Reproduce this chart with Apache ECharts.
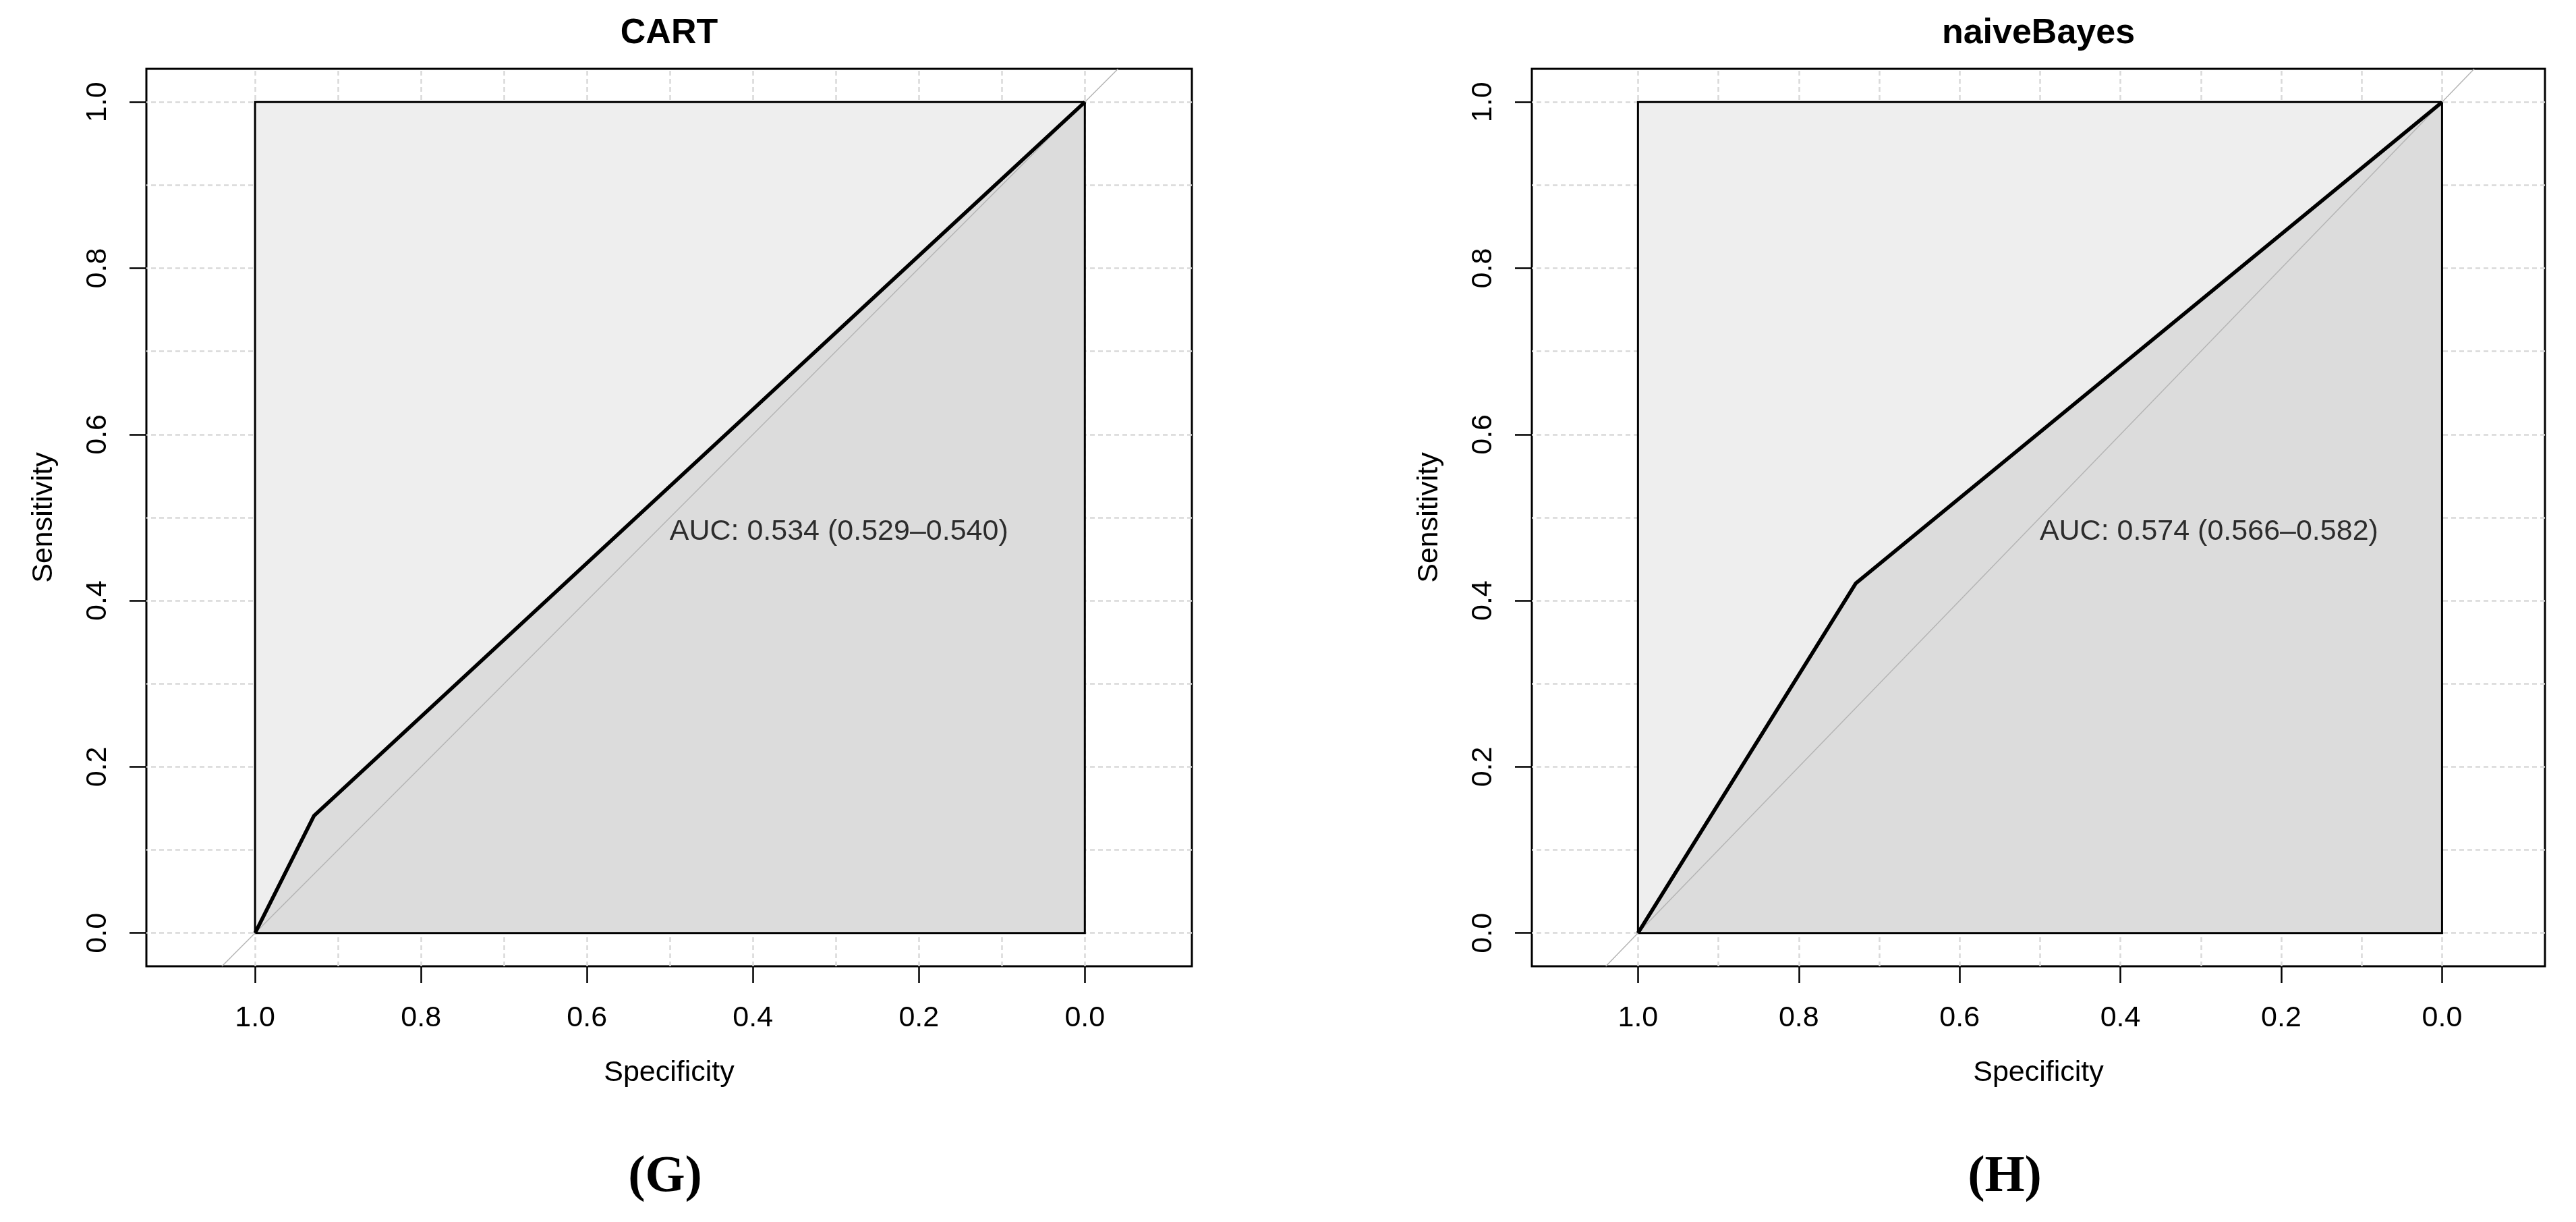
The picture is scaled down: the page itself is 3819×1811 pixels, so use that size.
<!DOCTYPE html>
<html>
<head>
<meta charset="utf-8">
<title>ROC curves - CART / naiveBayes</title>
<script src="https://cdn.jsdelivr.net/npm/echarts@6/dist/echarts.min.js"></script>
<style>
  html, body { margin: 0; padding: 0; background: #fff; }
  #chart { width: 3819px; height: 1811px; }
</style>
</head>
<body>
<div id="chart"></div>
<script>
// ---- data ----
var TITLES = ['CART', 'naiveBayes'];
var PANEL_TAGS = ['(G)', '(H)'];
var AUC_TEXTS = ['AUC: 0.534 (0.529\u20130.540)', 'AUC: 0.574 (0.566\u20130.582)'];

var X_TICKS = [1.0, 0.8, 0.6, 0.4, 0.2, 0.0];
var Y_TICKS = [0.0, 0.2, 0.4, 0.6, 0.8, 1.0];
var GRID_STEPS = [0.0, 0.1, 0.2, 0.3, 0.4, 0.5, 0.6, 0.7, 0.8, 0.9, 1.0];

// ROC curves (specificity, sensitivity)
var CART_SPEC = [1.0, 0.929, 0.0];
var CART_SENS = [0.0, 0.141, 1.0];
var NB_SPEC = [1.0, 0.729, 0.0];
var NB_SENS = [0.0, 0.421, 1.0];

// max AUC square and chance diagonal
var MAX_SPEC = [1.0, 1.0, 0.0, 0.0];
var MAX_SENS = [0.0, 1.0, 1.0, 0.0];
var CHANCE_SPEC = [1.04, -0.04];
var CHANCE_SENS = [-0.04, 1.04];

var FONT = '"Liberation Sans", Arial, sans-serif';

function zip(xs, ys) {
  return xs.map(function (x, i) { return [x, ys[i]]; });
}

// polygon drawn through the axes of one grid
function polygon(idx, pts, style, z) {
  return {
    type: 'custom',
    xAxisIndex: idx,
    yAxisIndex: idx,
    z: z,
    silent: true,
    data: pts,
    renderItem: function (params, api) {
      if (params.dataIndex !== 0) return;
      return {
        type: 'polygon',
        shape: { points: pts.map(function (p) { return api.coord(p); }) },
        style: style
      };
    }
  };
}

var panels = [
  { left: 217, width: 1550, xmin: -0.129, xmax: 1.131, spec: CART_SPEC, sens: CART_SENS, cx: 992, tagX: 986 },
  { left: 2271, width: 1502, xmin: -0.128, xmax: 1.132, spec: NB_SPEC, sens: NB_SENS, cx: 3022, tagX: 2972 }
];

var grids = [], xAxes = [], yAxes = [], series = [], graphics = [];

panels.forEach(function (p, i) {
  grids.push({
    left: p.left, top: 102, width: p.width, height: 1330,
    show: true, borderColor: '#000', borderWidth: 3, backgroundColor: 'transparent'
  });

  xAxes.push({
    type: 'value', gridIndex: i, inverse: true, min: p.xmin, max: p.xmax,
    axisLine: { show: false, onZero: false },
    splitLine: { show: false },
    axisTick: { show: true, customValues: X_TICKS, length: 25, lineStyle: { color: '#000', width: 2.5 } },
    axisLabel: {
      customValues: X_TICKS, margin: 56, fontSize: 43, color: '#000', fontFamily: FONT,
      formatter: function (v) { return v.toFixed(1); }
    },
    name: 'Specificity', nameLocation: 'middle', nameGap: 137,
    nameTextStyle: { fontSize: 43, color: '#000', fontFamily: FONT }
  });

  yAxes.push({
    type: 'value', gridIndex: i, min: -0.04, max: 1.04,
    axisLine: { show: false, onZero: false },
    splitLine: { show: false },
    axisTick: { show: true, customValues: Y_TICKS, length: 25, lineStyle: { color: '#000', width: 2.5 } },
    axisLabel: {
      customValues: Y_TICKS, rotate: 90, margin: 50, fontSize: 43, color: '#000', fontFamily: FONT,
      formatter: function (v) { return v.toFixed(1); }
    },
    name: 'Sensitivity', nameLocation: 'middle', nameGap: 130,
    nameTextStyle: { fontSize: 43, color: '#000', fontFamily: FONT }
  });

  // dotted background grid at every 0.1, kept under the polygons
  var gridLines = GRID_STEPS.map(function (v) { return { xAxis: v }; })
    .concat(GRID_STEPS.map(function (v) { return { yAxis: v }; }));
  series.push({
    type: 'line', xAxisIndex: i, yAxisIndex: i, z: 1, silent: true,
    data: [[1, 0]], symbol: 'none', lineStyle: { width: 0 },
    markLine: {
      z: 1, silent: true, symbol: 'none', label: { show: false },
      lineStyle: { color: '#d9d9d9', width: 2.5, type: [7, 5] },
      data: gridLines
    }
  });

  // max AUC square, AUC area, square outline
  series.push(polygon(i, zip(MAX_SPEC, MAX_SENS), { fill: '#eeeeee' }, 2));
  series.push(polygon(i, zip(p.spec, p.sens).concat([[0, 0]]), { fill: '#dcdcdc' }, 3));
  series.push(polygon(i, zip(MAX_SPEC, MAX_SENS), { fill: 'none', stroke: '#000', lineWidth: 3 }, 4));

  // chance diagonal
  series.push({
    type: 'line', xAxisIndex: i, yAxisIndex: i, z: 5, silent: true, clip: true,
    data: zip(CHANCE_SPEC, CHANCE_SENS), symbol: 'none',
    lineStyle: { color: '#b4b4b4', width: 1.5 }
  });

  // ROC curve
  series.push({
    type: 'line', xAxisIndex: i, yAxisIndex: i, z: 6, silent: true,
    data: zip(p.spec, p.sens), symbol: 'none',
    lineStyle: { color: '#000', width: 5.5 }
  });

  // AUC text, top-left anchored at (0.5, 0.5)
  series.push({
    type: 'scatter', xAxisIndex: i, yAxisIndex: i, z: 7, silent: true,
    data: [[0.5, 0.5]], symbolSize: 1, itemStyle: { color: 'transparent' },
    label: {
      show: true, position: [0, 0], align: 'left', verticalAlign: 'top',
      formatter: AUC_TEXTS[i], fontSize: 43, color: '#000', fontFamily: FONT
    }
  });

  graphics.push({
    type: 'text', x: p.cx, y: 50,
    style: { text: TITLES[i], font: 'bold 52px ' + FONT, fill: '#000', textAlign: 'center', textVerticalAlign: 'middle' }
  });
  graphics.push({
    type: 'text', x: p.tagX, y: 1745,
    style: { text: PANEL_TAGS[i], font: 'bold 76px "Liberation Serif", "Times New Roman", serif', fill: '#000', textAlign: 'center', textVerticalAlign: 'middle' }
  });
});

var chart = echarts.init(document.getElementById('chart'));
chart.setOption({
  animation: false,
  backgroundColor: '#fff',
  grid: grids,
  xAxis: xAxes,
  yAxis: yAxes,
  series: series,
  graphic: graphics
});
</script>
</body>
</html>
